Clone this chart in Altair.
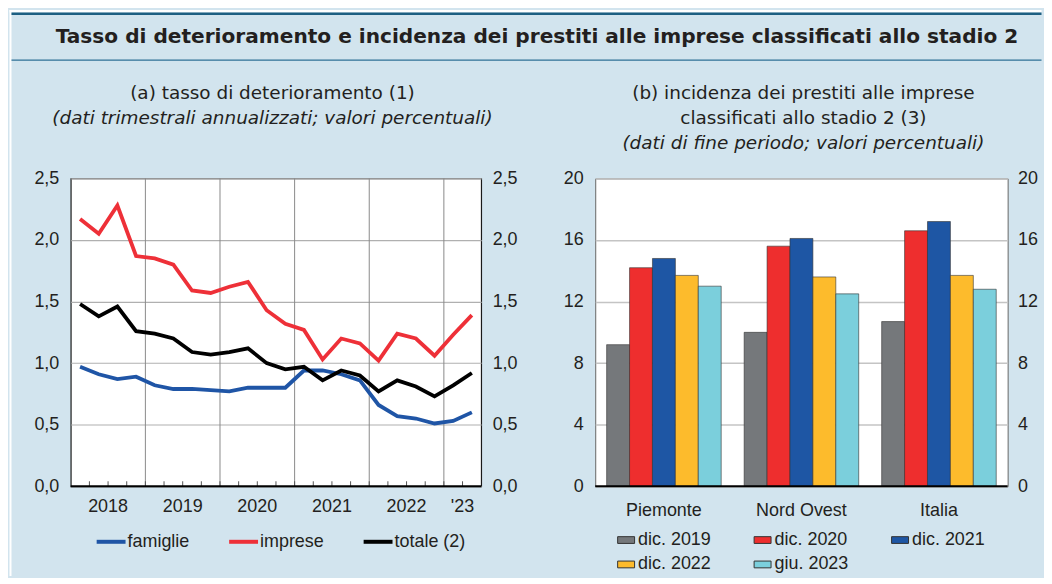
import altair as alt
import pandas as pd

# ---------------- data ----------------
# quarterly, 2018Q1 .. 2023Q2 (22 quarters)
quarter_index = list(range(22))
famiglie = [0.97, 0.91, 0.87, 0.89, 0.82, 0.79, 0.79, 0.78, 0.77, 0.80, 0.80,
            0.80, 0.94, 0.94, 0.91, 0.86, 0.66, 0.57, 0.55, 0.51, 0.53, 0.60]
imprese = [2.17, 2.05, 2.28, 1.87, 1.85, 1.80, 1.59, 1.57, 1.62, 1.66, 1.43,
           1.32, 1.27, 1.03, 1.20, 1.16, 1.02, 1.24, 1.20, 1.06, 1.23, 1.39]
totale = [1.48, 1.38, 1.46, 1.26, 1.24, 1.20, 1.09, 1.07, 1.09, 1.12, 1.00,
          0.95, 0.97, 0.86, 0.94, 0.90, 0.77, 0.86, 0.81, 0.73, 0.82, 0.92]
series_names = ["famiglie", "imprese", "totale (2)"]
series_colors = ["#1f55a6", "#ee3038", "#000000"]

year_labels = ["2018", "2019", "2020", "2021", "2022", "'23"]
year_label_pos = [2, 6, 10, 14, 18, 21]
year_bounds = [4, 8, 12, 16, 20]
quarter_ticks = list(range(1, 22))
left_y_ticks = [0, 0.5, 1.0, 1.5, 2.0, 2.5]

regions = ["Piemonte", "Nord Ovest", "Italia"]
periods = ["dic. 2019", "dic. 2020", "dic. 2021", "dic. 2022", "giu. 2023"]
period_colors = ["#75787b", "#ee2e2e", "#1e56a4", "#fdbb2c", "#7bcfdc"]
val_dic2019 = [9.2, 10.0, 10.7]
val_dic2020 = [14.2, 15.6, 16.6]
val_dic2021 = [14.8, 16.1, 17.2]
val_dic2022 = [13.7, 13.6, 13.7]
val_giu2023 = [13.0, 12.5, 12.8]
right_y_ticks = [0, 4, 8, 12, 16, 20]

main_title = "Tasso di deterioramento e incidenza dei prestiti alle imprese classificati allo stadio 2"
left_sub = ["(a) tasso di deterioramento (1)", "(dati trimestrali annualizzati; valori percentuali)"]
right_sub = ["(b) incidenza dei prestiti alle imprese", "classificati allo stadio 2 (3)",
             "(dati di fine periodo; valori percentuali)"]

# ---------------- tables ----------------
line_df = pd.DataFrame({
    "q": quarter_index * 3,
    "serie": [series_names[0]] * 22 + [series_names[1]] * 22 + [series_names[2]] * 22,
    "valore": famiglie + imprese + totale,
})
line_df["x"] = line_df["q"] + 0.5
bounds_df = pd.DataFrame({"b": year_bounds})
qt_df = pd.DataFrame({"t": quarter_ticks})
ylab_df = pd.DataFrame({"pos": year_label_pos, "lab": year_labels})
reg_df = pd.DataFrame({"regione": regions})

bar_vals = [val_dic2019, val_dic2020, val_dic2021, val_dic2022, val_giu2023]
bar_rows = []
for p, vals in zip(periods, bar_vals):
    for r, v in zip(regions, vals):
        bar_rows.append({"regione": r, "periodo": p, "valore": v})
bar_df = pd.DataFrame(bar_rows)

# ---------------- geometry ----------------
W1, W2, H = 412, 414, 309
BG = "#d2e4ee"
FONT = "Liberation Sans"
TFONT = "DejaVu Sans"
TXT = "#231f20"

xscale = alt.Scale(domain=[0, 22], nice=False, zero=False)
yscale_l = alt.Scale(domain=[0, 2.5], nice=False)
yscale_r = alt.Scale(domain=[0, 20], nice=False)
band = alt.Scale(domain=regions, paddingInner=0.167, paddingOuter=0.083)

comma_expr = "replace(format(datum.value, '.1f'), '.', ',')"

one = alt.Data(values=[{"k": 1}])

# ---- decoration (frame of the figure, titles) in left-panel coordinates ----
bounds_rect = alt.Chart(one).mark_rect(opacity=0).encode(
    x=alt.value(-61.5), x2=alt.value(974.5), y=alt.value(-169), y2=alt.value(399))
white_top = alt.Chart(one).mark_rect(color="white").encode(
    x=alt.value(-61.5), x2=alt.value(974.5), y=alt.value(-169), y2=alt.value(-166.5))
white_left = alt.Chart(one).mark_rect(color="white").encode(
    x=alt.value(-61.5), x2=alt.value(-59.5), y=alt.value(-169), y2=alt.value(399))
teal1 = alt.Chart(one).mark_rule(color="#1d5f82", strokeWidth=2.6).encode(
    x=alt.value(-59.5), x2=alt.value(974.5), y=alt.value(-165.3))
teal2 = alt.Chart(one).mark_rule(color="#2e7196", strokeWidth=1.3).encode(
    x=alt.value(-59.5), x2=alt.value(974.5), y=alt.value(-118.7))


def txt(s, x, y, size=18.5, weight="normal", style="normal"):
    return alt.Chart(one).mark_text(
        text=s, font=TFONT, fontSize=size, fontWeight=weight, fontStyle=style,
        color=TXT, align="center", baseline="alphabetic").encode(
        x=alt.value(x), y=alt.value(y))


title_layers = [
    txt(main_title, 468, -135.5, size=20.2, weight="bold"),
    txt(left_sub[0], 202.5, -79.5),
    txt(left_sub[1], 202.5, -54.5, style="italic"),
    txt(right_sub[0], 735.5, -79.5),
    txt(right_sub[1], 735.5, -54.5),
    txt(right_sub[2], 735.5, -29.5, style="italic"),
]

# ---------------- left panel ----------------
year_rules = alt.Chart(bounds_df).mark_rule(color="#8a8a8a", strokeWidth=1).encode(
    x=alt.X("b:Q", scale=xscale, axis=None), y=alt.value(0), y2=alt.value(H))
q_ticks = alt.Chart(qt_df).mark_rule(color="#555555", strokeWidth=1).encode(
    x=alt.X("t:Q", scale=xscale, axis=None), y=alt.value(H - 5), y2=alt.value(H))
year_text = alt.Chart(ylab_df).mark_text(
    font=FONT, fontSize=18, color=TXT, baseline="alphabetic", align="center").encode(
    x=alt.X("pos:Q", scale=xscale, axis=None), y=alt.value(H + 26), text="lab:N")
base_l = alt.Chart(one).mark_rule(color="#000000", strokeWidth=2).encode(
    x=alt.value(0), x2=alt.value(W1), y=alt.value(H))

lines = alt.Chart(line_df).mark_line(strokeWidth=3.8).encode(
    x=alt.X("x:Q", scale=xscale, axis=None),
    y=alt.Y("valore:Q", scale=yscale_l, axis=alt.Axis(
        orient="left", values=left_y_ticks, labelExpr=comma_expr, ticks=False,
        domain=False, grid=True, gridColor="#b0b0b0", gridWidth=1.2,
        labelFontSize=18, labelPadding=12, labelColor=TXT, title=None)),
    color=alt.Color("serie:N", scale=alt.Scale(domain=series_names, range=series_colors),
                    legend=alt.Legend(orient="none", legendX=24, legendY=348,
                                      direction="horizontal", columns=3,
                                      symbolType="stroke", symbolSize=841,
                                      symbolStrokeWidth=4, labelFontSize=18,
                                      labelOffset=0, columnPadding=31, padding=0,
                                      labelColor=TXT, title=None)),
    order=alt.Order("q:Q"),
)
lines_right = alt.Chart(line_df).mark_line(opacity=0).encode(
    x=alt.X("x:Q", scale=xscale, axis=None),
    y=alt.Y("valore:Q", scale=yscale_l, axis=alt.Axis(
        orient="right", values=left_y_ticks, labelExpr=comma_expr, ticks=False,
        domain=False, grid=False, labelFontSize=18, labelPadding=11,
        labelColor=TXT, title=None)),
    detail="serie:N",
)

left = alt.layer(
    bounds_rect, white_top, white_left, teal1, teal2, *title_layers,
    year_rules, q_ticks, lines, lines_right, base_l, year_text,
).resolve_axis(y="independent").properties(
    width=W1, height=H,
    view=alt.ViewBackground(fill="white", stroke="#1a1a1a", strokeWidth=1.2),
)

# ---------------- right panel ----------------
bars = alt.Chart(bar_df).mark_bar(stroke="#333333", strokeWidth=0.8, strokeOpacity=0.75).encode(
    x=alt.X("regione:N", sort=regions, scale=band, axis=None),
    xOffset=alt.XOffset("periodo:N", sort=periods,
                        scale=alt.Scale(domain=periods, paddingInner=0, paddingOuter=0)),
    y=alt.Y("valore:Q", scale=yscale_r, axis=alt.Axis(
        orient="left", values=right_y_ticks, ticks=False, domain=False,
        grid=True, gridColor="#c4c4c4", gridWidth=1.5, labelFontSize=18,
        labelPadding=12, labelColor=TXT, title=None)),
    color=alt.Color("periodo:N", scale=alt.Scale(domain=periods, range=period_colors),
                    legend=alt.Legend(orient="none", legendX=22, legendY=354,
                                      direction="horizontal", columns=3,
                                      symbolType="M-1,-0.4H1V0.4H-1Z", symbolSize=289,
                                      symbolStrokeColor="#333333", symbolStrokeWidth=1,
                                      labelFontSize=18, labelOffset=3, columnPadding=40,
                                      rowPadding=6.5, padding=0, labelColor=TXT,
                                      title=None)),
)
bars_right = alt.Chart(bar_df).mark_bar(opacity=0).encode(
    x=alt.X("regione:N", sort=regions, scale=band, axis=None),
    xOffset=alt.XOffset("periodo:N", sort=periods,
                        scale=alt.Scale(domain=periods, paddingInner=0, paddingOuter=0)),
    y=alt.Y("valore:Q", scale=yscale_r, axis=alt.Axis(
        orient="right", values=right_y_ticks, ticks=False, domain=False,
        grid=False, labelFontSize=18, labelPadding=10, labelColor=TXT, title=None)),
)
reg_text = alt.Chart(reg_df).mark_text(
    font=FONT, fontSize=18, color=TXT, baseline="alphabetic", align="center").encode(
    x=alt.X("regione:N", sort=regions, scale=band, axis=None),
    y=alt.value(H + 30), text="regione:N")
base_r = alt.Chart(one).mark_rule(color="#000000", strokeWidth=2).encode(
    x=alt.value(0), x2=alt.value(W2), y=alt.value(H))

right = alt.layer(bars, bars_right, base_r, reg_text).resolve_axis(y="independent").properties(
    width=W2, height=H,
    view=alt.ViewBackground(fill="white", stroke="#666666", strokeWidth=1),
)

chart = alt.hconcat(left, right, spacing=114.5, bounds="flush").resolve_scale(
    color="independent").properties(
    padding=0, background=BG,
).configure(font=FONT).configure_axis(labelFont=FONT).configure_legend(labelFont=FONT)

chart.save("out.html", embed_options={"renderer": "svg", "actions": False})
